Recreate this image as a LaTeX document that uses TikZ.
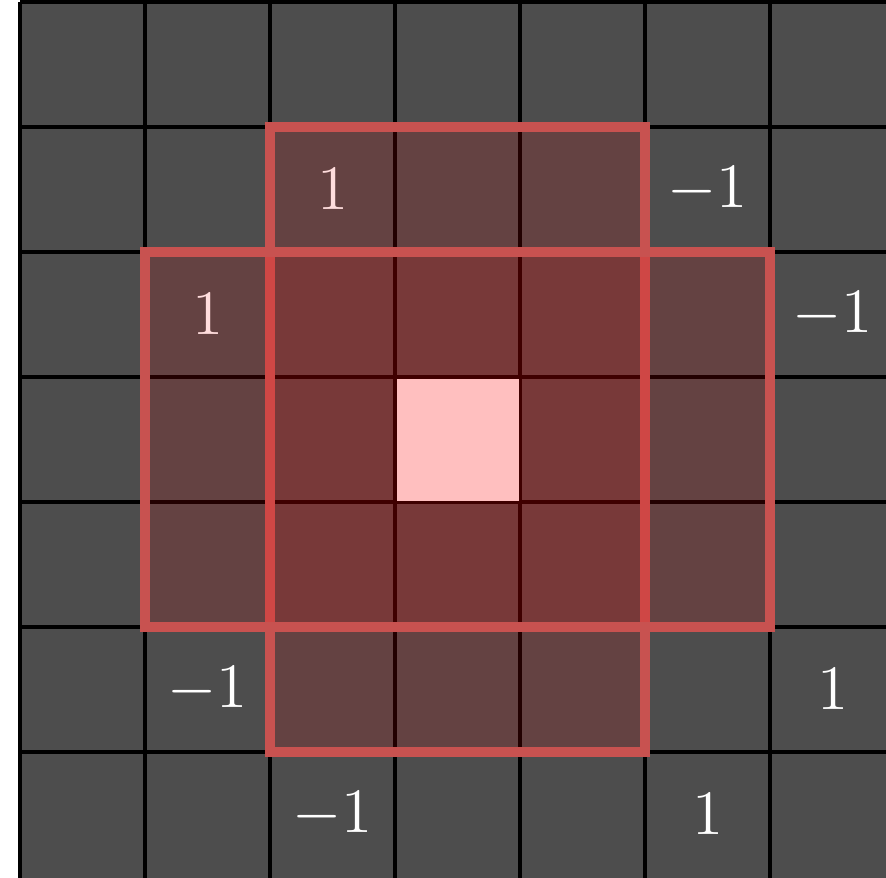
\documentclass[tikz,border=0pt]{standalone}
\usepackage{tikz}
\usetikzlibrary{positioning}

\begin{document}
\begin{tikzpicture}[
  execute at begin picture={
    \definecolor{cellgray}{RGB}{77,77,77}
    \definecolor{kernelred}{RGB}{200,82,80}
    \definecolor{centerpink}{RGB}{255,191,191}
  },
  font=\fontsize{14}{16}\selectfont,
  gridline/.style={draw=black, line width=0.7pt},
  weight/.style={text=white, inner sep=0pt},
  region/.style={
    fill=red,
    fill opacity=0.135,
    draw=kernelred,
    line width=2.3pt
  }
]

\useasboundingbox (-0.16,-7) rectangle (6.928,0.016);

\fill[cellgray] (0,0) rectangle (7.2,-7.1);
\foreach \i in {0,...,7}
  \draw[gridline] (\i,0) -- (\i,-7.1);
\foreach \i in {0,...,6}
  \draw[gridline] (0,-\i) -- (7.2,-\i);

\foreach \c/\r/\v [count=\k] in {2/1/1, 5/1/-1, 1/2/1, 6/2/-1,
                                 1/5/-1, 6/5/1, 2/6/-1, 5/6/1}
  \node[weight] (w\k) at (\c+0.5,-\r-0.5) {$\v$};

\filldraw[region] (2,-1) rectangle (5,-6);
\filldraw[region] (1,-2) rectangle (6,-5);

\fill[centerpink] (3.012,-3.012) rectangle (3.988,-3.988);

\end{tikzpicture}
\end{document}
